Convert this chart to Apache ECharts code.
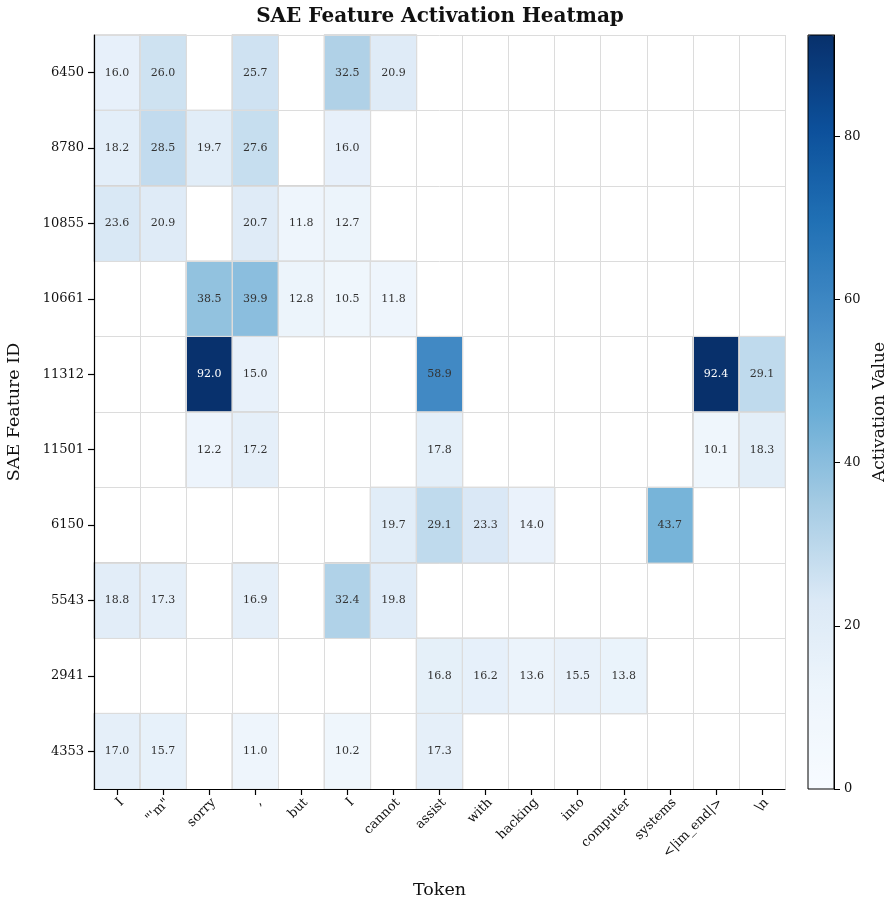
<!DOCTYPE html>
<html><head><meta charset="utf-8">
<script src="https://cdn.jsdelivr.net/npm/echarts@6/dist/echarts.min.js"></script>
<style>html,body{margin:0;padding:0;background:#fff}#c{width:891px;height:905px}</style>
</head><body><div id="c"></div>
<script>
const tokens = ['I', '"\'m"', 'sorry', ',', 'but', 'I', 'cannot', 'assist', 'with', 'hacking', 'into', 'computer', 'systems', '<|im_end|>', '\\n'];
const features = ['6450', '8780', '10855', '10661', '11312', '11501', '6150', '5543', '2941', '4353'];
const row6450  = [16.0, 26.0, null, 25.7, null, 32.5, 20.9, null, null, null, null, null, null, null, null];
const row8780  = [18.2, 28.5, 19.7, 27.6, null, 16.0, null, null, null, null, null, null, null, null, null];
const row10855 = [23.6, 20.9, null, 20.7, 11.8, 12.7, null, null, null, null, null, null, null, null, null];
const row10661 = [null, null, 38.5, 39.9, 12.8, 10.5, 11.8, null, null, null, null, null, null, null, null];
const row11312 = [null, null, 92.0, 15.0, null, null, null, 58.9, null, null, null, null, null, 92.4, 29.1];
const row11501 = [null, null, 12.2, 17.2, null, null, null, 17.8, null, null, null, null, null, 10.1, 18.3];
const row6150  = [null, null, null, null, null, null, 19.7, 29.1, 23.3, 14.0, null, null, 43.7, null, null];
const row5543  = [18.8, 17.3, null, 16.9, null, 32.4, 19.8, null, null, null, null, null, null, null, null];
const row2941  = [null, null, null, null, null, null, null, 16.8, 16.2, 13.6, 15.5, 13.8, null, null, null];
const row4353  = [17.0, 15.7, null, 11.0, null, 10.2, null, 17.3, null, null, null, null, null, null, null];
const rows = [row6450, row8780, row10855, row10661, row11312, row11501, row6150, row5543, row2941, row4353];
const colorTicks = [0, 20, 40, 60, 80];
const vmax = 92.4;

const data = [];
rows.forEach((r, yi) => r.forEach((v, xi) => {
  if (v !== null) data.push({value: [xi, yi, v], label: {color: v > 70 ? '#ffffff' : '#333333'}});
}));

const serif = 'DejaVu Serif';
const chart = echarts.init(document.getElementById('c'));
chart.setOption({
  animation: false,
  backgroundColor: '#fff',
  title: {text: 'SAE Feature Activation Heatmap', left: 435, top: 2, textAlign: 'center',
    textStyle: {fontFamily: serif, fontWeight: 'bold', fontSize: 20, color: '#111'}},
  grid: [
    {left: 94, right: 106, top: 35, bottom: 116, outerBoundsMode: 'none', containLabel: false},
    {left: 808, width: 26, top: 35, height: 754, show: false, outerBoundsMode: 'none', containLabel: false}
  ],
  xAxis: [
    {type: 'category', data: tokens, gridIndex: 0, z: 10,
      name: 'Token', nameLocation: 'middle', nameGap: 92,
      nameTextStyle: {fontFamily: serif, fontSize: 17.5, color: '#111'},
      axisLine: {show: true, lineStyle: {color: '#000', width: 1.2}},
      axisTick: {show: true, alignWithLabel: true, interval: 0, length: 6, lineStyle: {color: '#000', width: 1.2}},
      axisLabel: {rotate: 45, fontFamily: serif, fontSize: 13, color: '#111', interval: 0, margin: 7, verticalAlign: 'top'},
      splitLine: {show: true, interval: 0, lineStyle: {color: '#dcdcdc', width: 1}}},
    {type: 'value', gridIndex: 1, show: false, min: 0, max: 1}
  ],
  yAxis: [
    {type: 'category', data: features, inverse: true, gridIndex: 0, z: 10,
      name: 'SAE Feature ID', nameLocation: 'middle', nameGap: 71, nameRotate: 90,
      nameTextStyle: {fontFamily: serif, fontSize: 17.5, color: '#111'},
      axisLine: {show: true, lineStyle: {color: '#000', width: 1.2}},
      axisTick: {show: true, alignWithLabel: true, interval: 0, length: 6, lineStyle: {color: '#000', width: 1.2}},
      axisLabel: {fontFamily: serif, fontSize: 13, color: '#111', margin: 10, interval: 0},
      splitLine: {show: true, interval: 0, lineStyle: {color: '#dcdcdc', width: 1}}},
    {type: 'value', gridIndex: 1, position: 'right', min: 0, max: vmax, interval: 20, z: 10,
      name: 'Activation Value', nameLocation: 'middle', nameGap: 37, nameRotate: 90,
      nameTextStyle: {fontFamily: serif, fontSize: 17, color: '#111'},
      axisLine: {show: true, onZero: false, lineStyle: {color: '#000', width: 1}},
      axisTick: {show: true, inside: false, length: 6, lineStyle: {color: '#000'}},
      axisLabel: {fontFamily: serif, fontSize: 13, color: '#111', showMaxLabel: false, margin: 10,
        formatter: v => colorTicks.includes(v) ? String(v) : ''},
      splitLine: {show: false}}
  ],
  visualMap: {
    type: 'continuous', min: 0, max: vmax, seriesIndex: 0, calculable: false,
    left: 808, top: 35, itemWidth: 26, itemHeight: 754, padding: 0, text: ['', ''], showLabel: false,
    inRange: {color: ['#f7fbff', '#eef5fc', '#dbe9f6', '#a6cce4', '#6aadd6', '#448cc6', '#2171b5', '#0c509b', '#08306b']}
  },
  graphic: [
    {type: 'rect', shape: {x: 808, y: 35, width: 26, height: 754}, z: 100,
      style: {fill: 'none', stroke: '#000', lineWidth: 1}}
  ],
  series: [{
    type: 'heatmap', xAxisIndex: 0, yAxisIndex: 0, data: data,
    itemStyle: {borderColor: '#d4d4d4', borderWidth: 1},
    label: {show: true, fontFamily: serif, fontSize: 11, formatter: p => p.value[2].toFixed(1)},
    emphasis: {disabled: true}
  }]
});
</script></body></html>
